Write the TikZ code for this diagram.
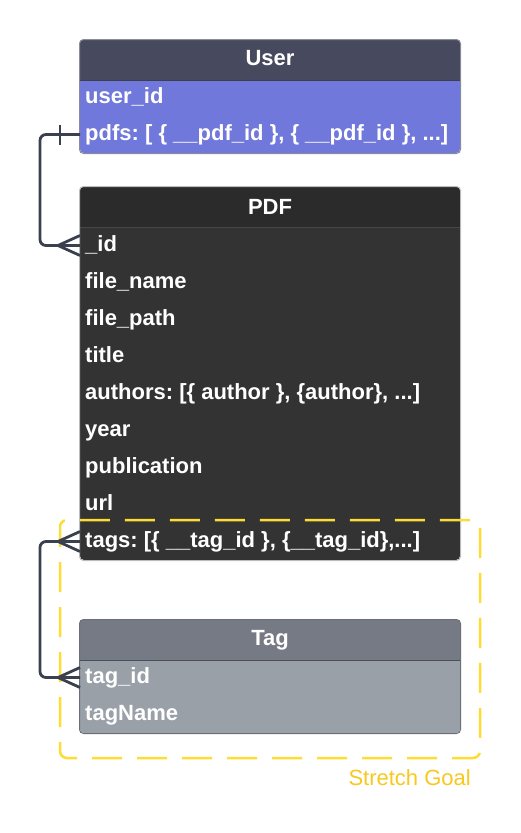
\documentclass[tikz,border=0pt]{standalone}
\usepackage{fontspec}
\setmainfont{Liberation Sans}
\frenchspacing
\definecolor{userhead}{HTML}{474A5E}
\definecolor{userbody}{HTML}{7178DB}
\definecolor{usersep}{HTML}{3D3F4F}
\definecolor{userborder}{HTML}{8A8D99}
\definecolor{pdfhead}{HTML}{2B2B2B}
\definecolor{pdfbody}{HTML}{333333}
\definecolor{pdfsep}{HTML}{474747}
\definecolor{pdfborder}{HTML}{B8BCC2}
\definecolor{taghead}{HTML}{767A84}
\definecolor{tagbody}{HTML}{9AA0A8}
\definecolor{tagsep}{HTML}{4B4F58}
\definecolor{tagborder}{HTML}{6B6F78}
\definecolor{conncol}{HTML}{3A404D}
\definecolor{goal}{HTML}{FFDC33}
\definecolor{goaltext}{HTML}{F7C81E}
\begin{document}
\begin{tikzpicture}[x=1pt,y=-1pt,
  rowtext/.style={anchor=base west, inner xsep=5pt, inner ysep=0pt, text height=16pt, text depth=5pt, text=white, font=\fontsize{22}{26}\selectfont\bfseries},
  headtext/.style={anchor=base, inner sep=0pt, text=white, font=\fontsize{22}{26}\selectfont\bfseries},
  tbl/.style={rectangle, rounded corners=4pt, line width=1pt, minimum width=380pt, inner sep=0pt},
  connline/.style={draw=conncol, line width=2.8pt, rounded corners=6pt},
  footline/.style={draw=conncol, line width=2.8pt, line join=round},
  goalbox/.style={draw=goal, line width=2.5pt, rounded corners=7pt, dash pattern=on 30pt off 15pt, dash phase=10pt}
]
\useasboundingbox (0,0) rectangle (521,833);

% ---------- User ----------
\node[tbl, fill=userbody, minimum height=113pt] (user) at (270,96.5) {};
\begin{scope}
  \clip[rounded corners=4pt] (user.north west) rectangle (user.south east);
  \fill[userhead] (80,40) rectangle (460,80);
  \draw[usersep, line width=1pt] (80,80) -- (460,80);
\end{scope}
\draw[userborder, line width=1pt, rounded corners=4pt] (user.north west) rectangle (user.south east);
\node[headtext] (userh) at (270,65) {User};
\node[rowtext] (u1) at (80,103) {user\_id};
\node[rowtext] (u2) at (80,140) {pdfs: [ \{ \_\_pdf\_id \}, \{ \_\_pdf\_id \}, ...]};

% ---------- PDF ----------
\node[tbl, fill=pdfbody, minimum height=373pt] (pdf) at (270,373.5) {};
\begin{scope}
  \clip[rounded corners=4pt] (pdf.north west) rectangle (pdf.south east);
  \fill[pdfhead] (80,187) rectangle (460,227);
  \draw[pdfsep, line width=1pt] (80,227) -- (460,227);
\end{scope}
\draw[pdfborder, line width=1pt, rounded corners=4pt] (pdf.north west) rectangle (pdf.south east);
\node[headtext] (pdfh) at (270,214) {PDF};
\node[rowtext] (p1) at (80,251) {\_id};
\node[rowtext] (p2) at (80,288) {file\_name};
\node[rowtext] (p3) at (80,325) {file\_path};
\node[rowtext] (p4) at (80,362) {title};
\node[rowtext] (p5) at (80,399) {authors: [\{ author \}, \{author\}, ...]};
\node[rowtext] (p6) at (80,436) {year};
\node[rowtext] (p7) at (80,473) {publication};
\node[rowtext] (p8) at (80,510) {url};
\node[rowtext] (p9) at (80,547) {tags: [\{ \_\_tag\_id \}, \{\_\_tag\_id\},...]};

% ---------- Tag ----------
\node[tbl, fill=tagbody, minimum height=113pt] (tag) at (270,676.5) {};
\begin{scope}
  \clip[rounded corners=4pt] (tag.north west) rectangle (tag.south east);
  \fill[taghead] (80,620) rectangle (460,660);
  \draw[tagsep, line width=1pt] (80,660) -- (460,660);
\end{scope}
\draw[tagborder, line width=1pt, rounded corners=4pt] (tag.north west) rectangle (tag.south east);
\node[headtext] (tagh) at (270,645) {Tag};
\node[rowtext] (t1) at (80,683) {tag\_id};
\node[rowtext] (t2) at (80,720) {tagName};

% ---------- Stretch goal ----------
\draw[goalbox] (60,520) rectangle (480,758);
\node[anchor=base east, inner sep=0pt, text=goaltext, font=\fontsize{22}{26}\selectfont] (goal) at (471,785) {Stretch Goal};

% ---------- Connectors ----------
\draw[connline] (u2.west) -- ++(-40,0) |- (p1.west);
\draw[footline] ([shift={(-20,-10)}]u2.west) -- ([shift={(-20,10)}]u2.west);
\draw[footline] ([shift={(0,-10)}]p1.west) -- ([shift={(-22,0)}]p1.west) -- ([shift={(0,10)}]p1.west);

\draw[connline] (p9.west) -- ++(-40,0) |- (t1.west);
\draw[footline] ([shift={(0,-10)}]p9.west) -- ([shift={(-22,0)}]p9.west) -- ([shift={(0,10)}]p9.west);
\draw[footline] ([shift={(0,-10)}]t1.west) -- ([shift={(-22,0)}]t1.west) -- ([shift={(0,10)}]t1.west);
\end{tikzpicture}
\end{document}
